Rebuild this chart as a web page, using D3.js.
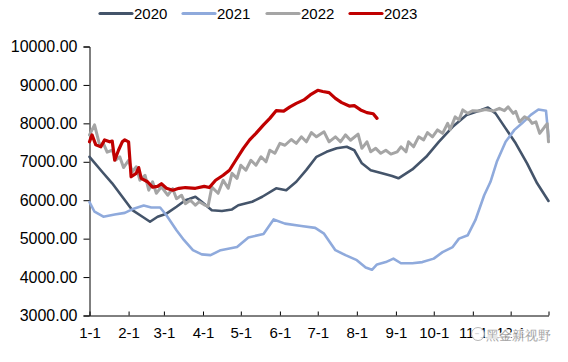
<!DOCTYPE html>
<html>
<head>
<meta charset="utf-8">
<script src="https://cdn.jsdelivr.net/npm/d3@7"></script>
<style>
  body { margin: 0; background: #fff; }
  text { font-family: "Liberation Sans", Arial, sans-serif; }
</style>
</head>
<body>
<div id="chart"></div>
<script>
// series data (month-day, value)
var years = ["2020", "2021", "2022", "2023"];
var colors = ["#44546A", "#8FAADC", "#A5A5A5", "#C00000"];

var dates2020 = ["01-01","01-11","01-19","01-27","02-04","02-12","02-18","02-24","03-03","03-11","03-18","03-21","03-26","03-31","04-08","04-16","04-24","04-29","05-10","05-18","05-29","06-06","06-14","06-22","06-30","07-08","07-16","07-24","07-30","08-05","08-12","08-21","08-29","09-03","09-14","09-25","10-05","10-16","10-27","11-06","11-13","11-19","11-27","12-05","12-14","12-22","12-31"];
var vals2020 = [7130,6740,6440,6090,5740,5570,5440,5570,5650,5830,6000,6030,6090,5960,5740,5720,5760,5870,5960,6090,6310,6260,6480,6790,7130,7260,7350,7390,7300,6960,6780,6700,6630,6570,6800,7130,7520,7910,8220,8330,8410,8260,7870,7480,6960,6440,5980];

var dates2021 = ["01-01","01-05","01-12","01-21","01-29","02-05","02-13","02-19","02-26","03-03","03-11","03-17","03-24","03-31","04-07","04-15","04-28","05-07","05-19","05-27","06-05","06-18","06-29","07-06","07-15","07-23","08-01","08-08","08-13","08-17","08-24","08-30","09-05","09-14","09-22","10-01","10-08","10-16","10-21","10-28","11-03","11-10","11-15","11-20","11-27","12-04","12-10","12-17","12-23","12-29","12-31"];
var vals2021 = [5950,5700,5570,5630,5670,5780,5860,5810,5810,5610,5220,4960,4700,4590,4570,4700,4780,5030,5120,5500,5390,5330,5280,5130,4700,4570,4440,4250,4190,4330,4390,4480,4360,4360,4390,4480,4650,4780,5000,5090,5480,6130,6480,7000,7520,7830,8000,8220,8360,8330,7650];

var dates2022 = ["01-01","01-05","01-09","01-12","01-15","01-19","01-22","01-25","01-28","02-01","02-04","02-07","02-10","02-14","02-17","02-20","02-23","02-27","03-04","03-08","03-11","03-15","03-18","03-22","03-26","03-29","04-02","04-05","04-08","04-13","04-17","04-21","04-24","04-28","05-01","05-05","05-09","05-13","05-17","05-21","05-24","05-28","06-01","06-05","06-10","06-14","06-18","06-22","06-26","06-30","07-06","07-10","07-15","07-19","07-23","07-27","08-02","08-05","08-09","08-12","08-16","08-20","08-24","08-28","09-02","09-05","09-09","09-11","09-15","09-19","09-23","09-26","09-30","10-04","10-08","10-12","10-14","10-18","10-21","10-24","10-28","11-01","11-06","11-11","11-17","11-22","11-26","11-29","12-03","12-05","12-08","12-12","12-16","12-18","12-21","12-24","12-28","12-30","12-31"];
var vals2022 = [7700,7960,7440,7480,7250,7300,7050,7130,6850,7040,6740,6870,6520,6650,6260,6480,6180,6350,6130,6300,6040,6130,5910,6000,5870,5960,5880,5840,6340,6180,6520,6310,6700,6570,6910,6780,7040,6910,7130,7000,7300,7220,7480,7430,7580,7480,7650,7520,7760,7650,7780,7520,7650,7520,7700,7560,7720,7350,7520,7260,7350,7220,7300,7200,7260,7390,7260,7520,7390,7650,7570,7760,7650,7830,7740,8000,7840,8170,8090,8350,8260,8330,8320,8360,8320,8390,8330,8430,8260,8310,8040,8170,8090,8000,8040,7740,7910,7990,7520];

var dates2023 = ["01-01","01-03","01-06","01-10","01-13","01-17","01-19","01-21","01-24","01-27","01-29","02-01","02-03","02-07","02-09","02-11","02-16","02-20","02-24","02-27","03-03","03-08","03-13","03-18","03-26","04-02","04-06","04-11","04-17","04-22","04-27","05-03","05-08","05-13","05-19","05-24","05-29","06-04","06-09","06-14","06-20","06-25","07-01","07-05","07-10","07-15","07-20","07-26","07-30","08-04","08-09","08-14","08-17"];
var vals2023 = [7520,7700,7440,7390,7570,7520,7540,7040,7300,7520,7570,7520,6610,6700,6850,6570,6480,6340,6360,6430,6310,6260,6310,6330,6310,6360,6330,6520,6650,6780,7040,7350,7570,7740,7960,8130,8330,8320,8430,8520,8610,8740,8860,8830,8800,8650,8540,8450,8460,8350,8280,8250,8130];

var yTicks = [3000, 4000, 5000, 6000, 7000, 8000, 9000, 10000];

var svgWidth = 568;
var svgHeight = 362;

var parseDay = d3.timeParse("%m-%d");

var svg = d3.select("#chart")
    .append("svg")
    .attr("width", svgWidth)
    .attr("height", svgHeight);

// scales
var x = d3.scaleTime()
    .domain([parseDay("01-01"), parseDay("12-31")])
    .range([89.5, 548.5]);
var y = d3.scaleLinear()
    .domain([3000, 10000])
    .range([315.5, 46.5]);

// y axis
var yAxis = d3.axisLeft(y)
    .tickValues(yTicks)
    .tickSize(6)
    .tickPadding(6)
    .tickFormat(d3.format(".2f"));

svg.append("g")
    .attr("transform", "translate(89.5,0)")
    .call(yAxis)
    .call(g => g.selectAll("text").attr("font-size", "16px").attr("fill", "#000"))
    .call(g => g.selectAll("line, path").attr("stroke", "#000"));

// x axis - ticks at month starts plus year end
var monthTicks = d3.timeMonth.range(parseDay("01-01"), parseDay("12-02"));
monthTicks.push(parseDay("12-31"));
var xAxis = d3.axisBottom(x)
    .tickValues(monthTicks)
    .tickSizeInner(-4)
    .tickSizeOuter(0)
    .tickPadding(12)
    .tickFormat((d, i) => i < 12 ? d3.timeFormat("%-m-%-d")(d) : "");

svg.append("g")
    .attr("transform", "translate(0,315.5)")
    .call(xAxis)
    .call(g => g.selectAll("text").attr("font-size", "15px").attr("fill", "#000"))
    .call(g => g.selectAll("line, path").attr("stroke", "#000"));

// lines
var allDates = [dates2020, dates2021, dates2022, dates2023];
var allVals = [vals2020, vals2021, vals2022, vals2023];
var widths = [2.6, 2.6, 3, 3.2];

var line = d3.line()
    .x(d => x(d.date))
    .y(d => y(d.value));

years.forEach(function(yr, i) {
    var data = allDates[i].map((d, j) => ({ date: parseDay(d), value: allVals[i][j] }));
    svg.append("path")
        .datum(data)
        .attr("fill", "none")
        .attr("stroke", colors[i])
        .attr("stroke-width", widths[i])
        .attr("stroke-linejoin", "round")
        .attr("stroke-linecap", "round")
        .attr("d", line);
});

// legend
var legendX = [100, 183, 267, 350];
var legend = svg.append("g");
years.forEach(function(yr, i) {
    legend.append("line")
        .attr("x1", legendX[i]).attr("x2", legendX[i] + 32)
        .attr("y1", 13.5).attr("y2", 13.5)
        .attr("stroke", colors[i])
        .attr("stroke-width", 3.2)
        .attr("stroke-linecap", "round");
    legend.append("text")
        .attr("x", legendX[i] + 34)
        .attr("y", 19)
        .attr("font-size", "15px")
        .attr("fill", "#000")
        .text(yr);
});

// watermark
var wm = svg.append("g").attr("opacity", 0.85);
wm.append("circle")
    .attr("cx", 478).attr("cy", 334).attr("r", 6.5)
    .attr("fill", "#fff").attr("stroke", "#aaa").attr("stroke-width", 1);
wm.append("text")
    .attr("x", 486).attr("y", 340)
    .attr("font-size", "13px")
    .attr("font-family", "Noto Sans CJK SC")
    .attr("fill", "#999")
    .attr("stroke", "#fff")
    .attr("stroke-width", 2.5)
    .attr("paint-order", "stroke")
    .text("黑金新视野");
</script>
</body>
</html>
